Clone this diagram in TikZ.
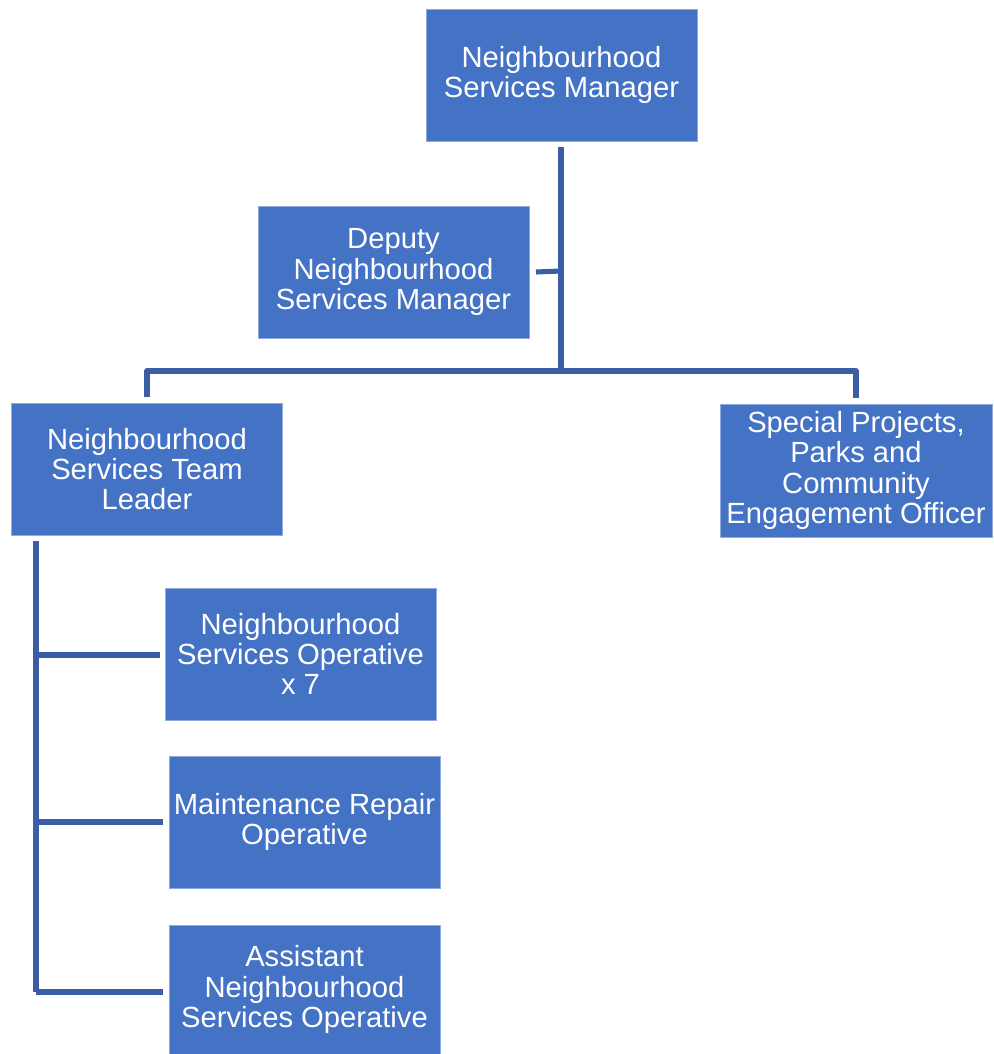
\documentclass[tikz,border=0pt]{standalone}
\usepackage{fontspec}
\setmainfont{Liberation Sans}
\definecolor{boxblue}{HTML}{4472C4}
\definecolor{linkblue}{HTML}{3A5DA6}
\begin{document}
\begin{tikzpicture}[x=0.75pt,y=-0.75pt,
  role/.style={rectangle,fill=boxblue,draw=boxblue!60!white,line width=0.6pt,
    text=white,align=center,inner sep=0pt,
    minimum width=271*0.75pt,minimum height=132*0.75pt,
    font=\fontsize{21.9pt}{22.6pt}\selectfont},
  link/.style={draw=linkblue,line width=3.8pt}]
\useasboundingbox (0,0) rectangle (994,1054);
\node[role] (nsm) at (561.5,75) {Neighbourhood\\Services Manager};
\node[role] (dep) at (393.5,272) {Deputy\\Neighbourhood\\Services Manager};
\node[role] (tl) at (147,469) {Neighbourhood\\Services Team\\Leader};
\node[role,minimum width=272*0.75pt,minimum height=133*0.75pt] (spp) at (856,470.5) {Special Projects,\\Parks and\\Community\\Engagement Officer};
\node[role] (op) at (300.5,654) {Neighbourhood\\Services Operative\\x 7};
\node[role] (mr) at (304.5,822) {Maintenance Repair\\Operative};
\node[role,minimum height=129*0.75pt] (ans) at (304.5,989.5) {Assistant\\Neighbourhood\\Services Operative};
% trunk
\coordinate (t0) at (561,147);
\coordinate (tj) at (561,371);
\coordinate (dj) at (561,271);
\coordinate (lj) at (147,371);
\coordinate (rj) at (856,371);
\draw[link] (t0) -- (tj);
\draw[link] (dj) -- (dep.east -| 536,0);
\draw[link,line join=round] (tj) -- (lj) -- (147,397);
\draw[link,line join=round] (tj) -- (rj) -- (856,398);
% team leader branch
\coordinate (l0) at (36,541);
\coordinate (l3) at (36,992);
\draw[link] (l0) -- (l3);
\draw[link] (36,655) -- (160,655);
\draw[link] (36,822) -- (163,822);
\draw[link] (l3) -- (163,992);
\end{tikzpicture}
\end{document}
